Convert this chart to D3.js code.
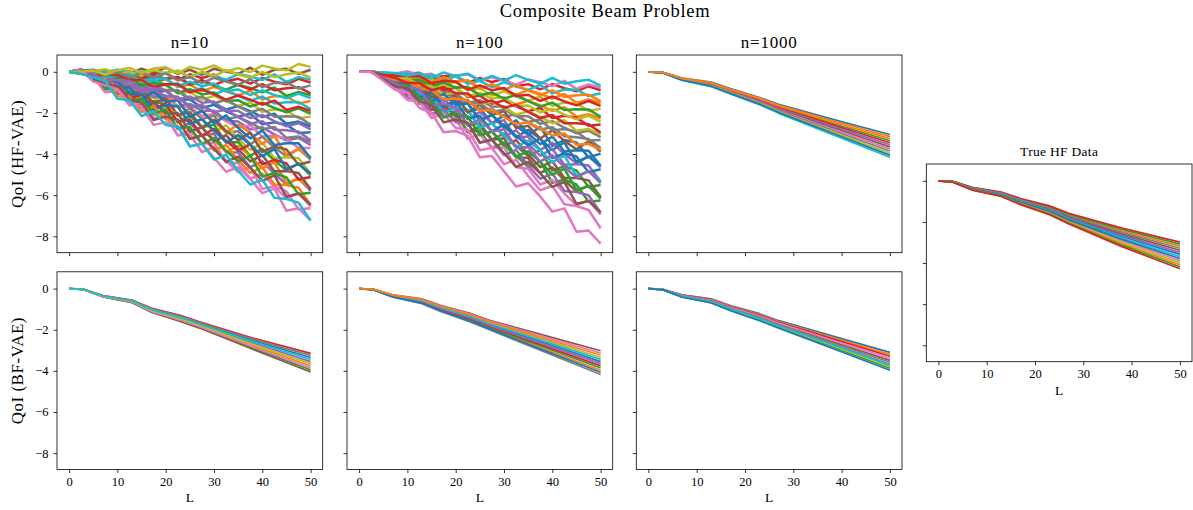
<!DOCTYPE html>
<html>
<head>
<meta charset="utf-8">
<script src="https://cdn.jsdelivr.net/npm/d3@7"></script>
<style>
  body { margin: 0; background: #fff; }
  svg text { font-family: "Liberation Serif", "DejaVu Serif", serif; fill: #000; }
</style>
</head>
<body>
<div id="chart"></div>
<script>
// L positions sampled for the noisy (HF-VAE, n=10 / n=100) panels and the smooth ones.
var L_NOISY = [0, 2.5, 5, 7.5, 10, 12.5, 15, 17.5, 20, 22.5, 25, 27.5, 30, 32.5, 35, 37.5, 40, 42.5, 45, 47.5, 50];
var L_SMOOTH = [0, 3, 7, 13, 17, 23, 27, 38, 50];

var xTicks = [0, 10, 20, 30, 40, 50];
var yTicks = [-8, -6, -4, -2, 0];

var colTitles = ['n=10', 'n=100', 'n=1000'];

// QoI (HF-VAE), n=10
var hfN10 = [
  [0, .05, -.06, -.42, -.38, -.74, -.65, -1.01, -.92, -1.38, -1.34, -1.75, -1.61, -1.92, -2.18, -2.04, -2.55, -2.46, -2.57, -2.98, -2.94],
  [0, .05, .02, -.26, -.14, -.42, -.25, -.53, -.36, -.74, -.62, -.95, -.73, -.96, -1.14, -.92, -1.35, -1.18, -1.21, -1.54, -1.42],
  [0, .05, -.11, -.07, -.03, -.24, -.2, -.51, -.32, -.28, -.64, -.45, -.66, -.87, -.63, -.79, -1.0, -.76, -1.17, -.98, -1.14],
  [0, 0, .02, -.21, -.04, .03, -.25, -.08, -.06, -.39, -.12, -.3, -.13, -.46, -.34, -.57, -.3, -.48, -.61, -.34, -.52],
  [0, 0, -.14, -.53, -.52, -.61, -1.05, -1.04, -1.18, -1.67, -1.56, -1.9, -1.89, -2.38, -2.42, -2.81, -2.7, -3.04, -3.33, -3.22, -3.56],
  [0, .05, .1, -.1, .1, -.1, .15, -.05, .2, -.1, .1, -.15, .15, 0, -.1, .2, -.15, .1, .15, -.1, .1],
  [0, .05, -.1, -.5, -.5, -.9, -.85, -1.25, -1.2, -1.7, -1.7, -2.15, -2.05, -2.4, -2.7, -2.6, -3.15, -3.1, -3.25, -3.7, -3.7],
  [0, 0, -.13, -.76, -.59, -.62, -1.35, -1.18, -1.31, -2.14, -1.77, -2.3, -2.13, -2.96, -2.89, -3.52, -3.15, -3.68, -4.11, -3.74, -4.27],
  [0, -.1, -.15, -.2, -.95, -.9, -1.55, -1.2, -1.75, -1.7, -2.55, -2.3, -2.95, -2.6, -3.25, -3.8, -3.45, -4.2, -4.15, -4.2, -4.95],
  [0, -.05, -.04, -.03, -.37, -.31, -.6, -.39, -.63, -.57, -.96, -.8, -1.09, -.88, -1.17, -1.41, -1.2, -1.54, -1.48, -1.47, -1.81],
  [0, .05, -.19, -.23, -.27, -.56, -.6, -.99, -.88, -.92, -1.36, -1.25, -1.54, -1.83, -1.67, -1.91, -2.2, -2.04, -2.53, -2.42, -2.66],
  [0, .1, -.32, -.34, -.36, -.88, -.9, -1.62, -1.34, -1.36, -2.18, -1.9, -2.42, -2.94, -2.56, -2.98, -3.5, -3.12, -4.04, -3.76, -4.18],
  [0, 0, -.17, -.84, -.71, -.78, -1.55, -1.42, -1.59, -2.46, -2.13, -2.7, -2.57, -3.44, -3.41, -4.08, -3.75, -4.32, -4.79, -4.46, -5.03],
  [0, -.05, 0, .05, -.25, -.15, -.4, -.15, -.35, -.25, -.6, -.4, -.65, -.4, -.65, -.85, -.6, -.9, -.8, -.75, -1.05],
  [0, 0, -.21, -.92, -.83, -.94, -1.75, -1.66, -1.87, -2.78, -2.49, -3.1, -3.01, -3.92, -3.93, -4.64, -4.35, -4.96, -5.47, -5.18, -5.79],
  [0, .1, -.04, -.68, -.52, -1.16, -.9, -1.54, -1.28, -2.12, -1.96, -2.7, -2.34, -2.88, -3.32, -2.96, -3.9, -3.64, -3.78, -4.52, -4.36],
  [0, 0, -.25, -1.0, -.95, -1.1, -1.95, -1.9, -2.15, -3.1, -2.85, -3.5, -3.45, -4.4, -4.45, -5.2, -4.95, -5.6, -6.15, -5.9, -6.55],
  [0, .05, -.23, -.31, -.39, -.72, -.8, -1.23, -1.16, -1.24, -1.72, -1.65, -1.98, -2.31, -2.19, -2.47, -2.8, -2.68, -3.21, -3.14, -3.42],
  [0, .05, -.02, -.34, -.26, -.58, -.45, -.77, -.64, -1.06, -.98, -1.35, -1.17, -1.44, -1.66, -1.48, -1.95, -1.82, -1.89, -2.26, -2.18],
  [0, .05, -.07, .01, .09, -.08, 0, -.27, -.04, .04, -.28, -.05, -.22, -.39, -.11, -.23, -.4, -.12, -.49, -.26, -.38],
  [0, -.1, -.11, -.12, -.83, -.74, -1.35, -.96, -1.47, -1.38, -2.19, -1.9, -2.51, -2.12, -2.73, -3.24, -2.85, -3.56, -3.47, -3.48, -4.19],
  [0, .1, -.4, -.5, -.6, -1.2, -1.3, -2.1, -1.9, -2.0, -2.9, -2.7, -3.3, -3.9, -3.6, -4.1, -4.7, -4.4, -5.4, -5.2, -5.7],
  [0, 0, -.06, -.37, -.28, -.29, -.65, -.56, -.62, -1.03, -.84, -1.1, -1.01, -1.42, -1.38, -1.69, -1.5, -1.76, -1.97, -1.78, -2.04],
  [0, .1, -.08, -.76, -.64, -1.32, -1.1, -1.78, -1.56, -2.44, -2.32, -3.1, -2.78, -3.36, -3.84, -3.52, -4.5, -4.28, -4.46, -5.24, -5.12],
  [0, -.05, -.12, -.19, -.61, -.63, -1.0, -.87, -1.19, -1.21, -1.68, -1.6, -1.97, -1.84, -2.21, -2.53, -2.4, -2.82, -2.84, -2.91, -3.33],
  [0, -.1, -.19, -.28, -1.07, -1.06, -1.75, -1.44, -2.03, -2.02, -2.91, -2.7, -3.39, -3.08, -3.77, -4.36, -4.05, -4.84, -4.83, -4.92, -5.71],
  [0, .1, -.16, -.92, -.88, -1.64, -1.5, -2.26, -2.12, -3.08, -3.04, -3.9, -3.66, -4.32, -4.88, -4.64, -5.7, -5.56, -5.82, -6.68, -6.64],
  [0, -.05, -.08, -.11, -.49, -.47, -.8, -.63, -.91, -.89, -1.32, -1.2, -1.53, -1.36, -1.69, -1.97, -1.8, -2.18, -2.16, -2.19, -2.57],
  [0, -.05, .04, .13, -.13, .01, -.2, .09, -.07, .07, -.24, 0, -.21, .08, -.13, -.29, 0, -.26, -.12, -.03, -.29],
  [0, 0, -.02, -.29, -.16, -.13, -.45, -.32, -.34, -.71, -.48, -.7, -.57, -.94, -.86, -1.13, -.9, -1.12, -1.29, -1.06, -1.28],
  [0, .1, -.36, -.42, -.48, -1.04, -1.1, -1.86, -1.62, -1.68, -2.54, -2.3, -2.86, -3.42, -3.08, -3.54, -4.1, -3.76, -4.72, -4.48, -4.94],
  [0, -.1, -.23, -.36, -1.19, -1.22, -1.95, -1.68, -2.31, -2.34, -3.27, -3.1, -3.83, -3.56, -4.29, -4.92, -4.65, -5.48, -5.51, -5.64, -6.47],
  [0, .1, -.12, -.84, -.76, -1.48, -1.3, -2.02, -1.84, -2.76, -2.68, -3.5, -3.22, -3.84, -4.36, -4.08, -5.1, -4.92, -5.14, -5.96, -5.88],
  [0, .05, -.15, -.15, -.15, -.4, -.4, -.75, -.6, -.6, -1.0, -.85, -1.1, -1.35, -1.15, -1.35, -1.6, -1.4, -1.85, -1.7, -1.9],
  [0, 0, -.1, -.45, -.4, -.45, -.85, -.8, -.9, -1.35, -1.2, -1.5, -1.45, -1.9, -1.9, -2.25, -2.1, -2.4, -2.65, -2.5, -2.8],
  [0, .1, -.44, -.58, -.72, -1.36, -1.5, -2.34, -2.18, -2.32, -3.26, -3.1, -3.74, -4.38, -4.12, -4.66, -5.3, -5.04, -6.08, -5.92, -6.46],
  [0, .1, -.48, -.66, -.84, -1.52, -1.7, -2.58, -2.46, -2.64, -3.62, -3.5, -4.18, -4.86, -4.64, -5.22, -5.9, -5.68, -6.76, -6.64, -7.22],
  [0, .05, .06, -.18, -.02, -.26, -.05, -.29, -.08, -.42, -.26, -.55, -.29, -.48, -.62, -.36, -.75, -.54, -.53, -.82, -.66],
  [0, 0, .06, -.13, .08, .19, -.05, .16, .22, -.07, .24, .1, .31, .02, .18, -.01, .3, .16, .07, .38, .24],
  [0, -.1, -.27, -.44, -1.31, -1.38, -2.15, -1.92, -2.59, -2.66, -3.63, -3.5, -4.27, -4.04, -4.81, -5.48, -5.25, -6.12, -6.19, -6.36, -7.23]
];

// QoI (HF-VAE), n=100
var hfN100 = [
  [0, 0, -.22, -.44, -.46, -1.08, -.8, -1.42, -1.14, -1.96, -1.78, -2.5, -2.12, -2.64, -3.06, -2.68, -3.6, -3.32, -3.44, -4.16, -3.98],
  [0, 0, -.08, -.16, -.09, -.32, -.3, -.63, -.46, -.44, -.82, -.65, -.88, -1.11, -.89, -1.07, -1.3, -1.08, -1.51, -1.34, -1.52],
  [0, 0, -.3, -.6, -.7, -1.4, -1.2, -1.9, -1.7, -2.6, -2.5, -3.3, -3.0, -3.6, -4.1, -3.8, -4.8, -4.6, -4.8, -5.6, -5.5],
  [0, 0, -.05, -.1, -.1, -.05, -.35, -.2, -.2, -.55, -.3, -.5, -.35, -.7, -.6, -.85, -.6, -.8, -.95, -.7, -.9],
  [0, 0, -.25, -.5, -.65, -.7, -1.45, -1.3, -1.45, -2.3, -1.95, -2.5, -2.35, -3.2, -3.15, -3.8, -3.45, -4.0, -4.45, -4.1, -4.65],
  [0, 0, -.33, -.66, -.89, -1.02, -1.85, -1.78, -2.01, -2.94, -2.67, -3.3, -3.23, -4.16, -4.19, -4.92, -4.65, -5.28, -5.81, -5.54, -6.17],
  [0, 0, -.04, -.08, .03, -.16, -.1, -.39, -.18, -.12, -.46, -.25, -.44, -.63, -.37, -.51, -.7, -.44, -.83, -.62, -.76],
  [0, 0, -.17, -.34, -.46, -.53, -.95, -.92, -1.04, -1.51, -1.38, -1.7, -1.67, -2.14, -2.16, -2.53, -2.4, -2.72, -2.99, -2.86, -3.18],
  [0, 0, -.1, -.2, -.2, -.5, -.35, -.65, -.5, -.9, -.8, -1.15, -.95, -1.2, -1.4, -1.2, -1.65, -1.5, -1.55, -1.9, -1.8],
  [0, 0, -.06, -.12, -.08, -.34, -.15, -.41, -.22, -.58, -.44, -.75, -.51, -.72, -.88, -.64, -1.05, -.86, -.87, -1.18, -1.04],
  [0, 0, -.24, -.48, -.42, -.96, -1.0, -1.74, -1.48, -1.52, -2.36, -2.1, -2.64, -3.18, -2.82, -3.26, -3.8, -3.44, -4.38, -4.12, -4.56],
  [0, 0, -.12, -.24, -.21, -.48, -.5, -.87, -.74, -.76, -1.18, -1.05, -1.32, -1.59, -1.41, -1.63, -1.9, -1.72, -2.19, -2.06, -2.28],
  [0, 0, -.34, -.68, -.82, -1.56, -1.4, -2.14, -1.98, -2.92, -2.86, -3.7, -3.44, -4.08, -4.62, -4.36, -5.4, -5.24, -5.48, -6.32, -6.26],
  [0, 0, -.14, -.28, -.32, -.66, -.55, -.89, -.78, -1.22, -1.16, -1.55, -1.39, -1.68, -1.92, -1.76, -2.25, -2.14, -2.23, -2.62, -2.56],
  [0, 0, -.27, -.54, -1.01, -.98, -1.65, -1.32, -1.89, -1.86, -2.73, -2.5, -3.17, -2.84, -3.51, -4.08, -3.75, -4.52, -4.49, -4.56, -5.33],
  [0, 0, -.31, -.62, -1.13, -1.14, -1.85, -1.56, -2.17, -2.18, -3.09, -2.9, -3.61, -3.32, -4.03, -4.64, -4.35, -5.16, -5.17, -5.28, -6.09],
  [0, 0, -.37, -.74, -1.01, -1.18, -2.05, -2.02, -2.29, -3.26, -3.03, -3.7, -3.67, -4.64, -4.71, -5.48, -5.25, -5.92, -6.49, -6.26, -6.93],
  [0, 0, -.19, -.38, -.67, -.71, -1.1, -.99, -1.33, -1.37, -1.86, -1.8, -2.19, -2.08, -2.47, -2.81, -2.7, -3.14, -3.18, -3.27, -3.71],
  [0, 0, -.13, -.26, -.34, -.37, -.75, -.68, -.76, -1.19, -1.02, -1.3, -1.23, -1.66, -1.64, -1.97, -1.8, -2.08, -2.31, -2.14, -2.42],
  [0, 0, -.28, -.56, -.54, -1.12, -1.2, -1.98, -1.76, -1.84, -2.72, -2.5, -3.08, -3.66, -3.34, -3.82, -4.4, -4.08, -5.06, -4.84, -5.32],
  [0, 0, -.26, -.52, -.58, -1.24, -1.0, -1.66, -1.42, -2.28, -2.14, -2.9, -2.56, -3.12, -3.58, -3.24, -4.2, -3.96, -4.12, -4.88, -4.74],
  [0, 0, -.07, -.14, -.31, -.23, -.5, -.27, -.49, -.41, -.78, -.6, -.87, -.64, -.91, -1.13, -.9, -1.22, -1.14, -1.11, -1.43],
  [0, 0, -.11, -.22, -.43, -.39, -.7, -.51, -.77, -.73, -1.14, -1.0, -1.31, -1.12, -1.43, -1.69, -1.5, -1.86, -1.82, -1.83, -2.19],
  [0, 0, -.09, -.18, -.22, -.21, -.55, -.44, -.48, -.87, -.66, -.9, -.79, -1.18, -1.12, -1.41, -1.2, -1.44, -1.63, -1.42, -1.66],
  [0, 0, -.35, -.7, -1.25, -1.3, -2.05, -1.8, -2.45, -2.5, -3.45, -3.3, -4.05, -3.8, -4.55, -5.2, -4.95, -5.8, -5.85, -6.0, -6.85],
  [0, 0, -.21, -.42, -.53, -.54, -1.25, -1.06, -1.17, -1.98, -1.59, -2.1, -1.91, -2.72, -2.63, -3.24, -2.85, -3.36, -3.77, -3.38, -3.89],
  [0, 0, -.39, -.78, -1.37, -1.46, -2.25, -2.04, -2.73, -2.82, -3.81, -3.7, -4.49, -4.28, -5.07, -5.76, -5.55, -6.44, -6.53, -6.72, -7.61],
  [0, 0, -.18, -.36, -.44, -.82, -.75, -1.13, -1.06, -1.54, -1.52, -1.95, -1.83, -2.16, -2.44, -2.32, -2.85, -2.78, -2.91, -3.34, -3.32],
  [0, 0, -.16, -.32, -.33, -.64, -.7, -1.11, -1.02, -1.08, -1.54, -1.45, -1.76, -2.07, -1.93, -2.19, -2.5, -2.36, -2.87, -2.78, -3.04],
  [0, 0, -.03, -.06, -.19, -.07, -.3, -.03, -.21, -.09, -.42, -.2, -.43, -.16, -.39, -.57, -.3, -.58, -.46, -.39, -.67],
  [0, 0, -.23, -.46, -.89, -.82, -1.45, -1.08, -1.61, -1.54, -2.37, -2.1, -2.73, -2.36, -2.99, -3.52, -3.15, -3.88, -3.81, -3.84, -4.57],
  [0, 0, -.2, -.4, -.45, -.8, -.9, -1.35, -1.3, -1.4, -1.9, -1.85, -2.2, -2.55, -2.45, -2.75, -3.1, -3.0, -3.55, -3.5, -3.8],
  [0, 0, -.32, -.64, -.66, -1.28, -1.4, -2.22, -2.04, -2.16, -3.08, -2.9, -3.52, -4.14, -3.86, -4.38, -5.0, -4.72, -5.74, -5.56, -6.08],
  [0, 0, -.15, -.3, -.55, -.55, -.9, -.75, -1.05, -1.05, -1.5, -1.4, -1.75, -1.6, -1.95, -2.25, -2.1, -2.5, -2.5, -2.55, -2.95],
  [0, 0, -.29, -.58, -.77, -.86, -1.65, -1.54, -1.73, -2.62, -2.31, -2.9, -2.79, -3.68, -3.67, -4.36, -4.05, -4.64, -5.13, -4.82, -5.41],
  [0, 0, -.36, -.72, -.78, -1.44, -1.6, -2.46, -2.32, -2.48, -3.44, -3.3, -3.96, -4.62, -4.38, -4.94, -5.6, -5.36, -6.42, -6.28, -6.84],
  [0, 0, -.44, -.88, -1.02, -1.76, -2.0, -2.94, -2.88, -3.12, -4.16, -4.1, -4.84, -5.58, -5.42, -6.06, -6.8, -6.64, -7.78, -7.72, -8.36]
];

// QoI (HF-VAE), n=1000
var hfN1000 = [
  [0, -0.03, -0.30, -0.50, -0.82, -1.25, -1.58, -2.30, -3.05],
  [0, -0.03, -0.31, -0.52, -0.84, -1.28, -1.62, -2.37, -3.15],
  [0, -0.04, -0.33, -0.56, -0.89, -1.35, -1.70, -2.50, -3.35],
  [0, -0.04, -0.34, -0.58, -0.92, -1.38, -1.74, -2.57, -3.45],
  [0, -0.04, -0.36, -0.60, -0.94, -1.41, -1.78, -2.64, -3.55],
  [0, -0.05, -0.37, -0.62, -0.96, -1.44, -1.82, -2.71, -3.65],
  [0, -0.05, -0.38, -0.64, -0.99, -1.47, -1.86, -2.78, -3.75],
  [0, -0.05, -0.39, -0.66, -1.01, -1.51, -1.90, -2.84, -3.85],
  [0, -0.05, -0.40, -0.68, -1.03, -1.54, -1.94, -2.91, -3.95],
  [0, -0.06, -0.42, -0.72, -1.08, -1.60, -2.02, -3.05, -4.15],
  [0, -0.06, -0.41, -0.70, -1.06, -1.57, -1.98, -2.98, -4.05],
  [0, -0.04, -0.32, -0.54, -0.87, -1.31, -1.66, -2.44, -3.25]
];

// QoI (BF-VAE), n=10
var bfN10 = [
  [0, -0.03, -0.35, -0.59, -0.99, -1.37, -1.69, -2.52, -3.35],
  [0, -0.04, -0.38, -0.64, -1.08, -1.50, -1.82, -2.77, -3.75],
  [0, -0.05, -0.39, -0.67, -1.13, -1.57, -1.89, -2.89, -3.95],
  [0, -0.03, -0.34, -0.56, -0.95, -1.30, -1.62, -2.40, -3.15],
  [0, -0.04, -0.37, -0.61, -1.04, -1.43, -1.75, -2.64, -3.55],
  [0, -0.05, -0.40, -0.68, -1.15, -1.60, -1.92, -2.95, -4.05],
  [0, -0.05, -0.39, -0.65, -1.11, -1.53, -1.85, -2.83, -3.85],
  [0, -0.03, -0.35, -0.57, -0.97, -1.33, -1.65, -2.46, -3.25],
  [0, -0.04, -0.37, -0.63, -1.06, -1.47, -1.79, -2.71, -3.65],
  [0, -0.04, -0.36, -0.60, -1.02, -1.40, -1.72, -2.58, -3.45]
];

// QoI (BF-VAE), n=100
var bfN100 = [
  [0, -0.04, -0.35, -0.60, -0.96, -1.39, -1.75, -2.61, -3.55],
  [0, -0.05, -0.40, -0.69, -1.06, -1.54, -1.92, -2.91, -3.97],
  [0, -0.05, -0.39, -0.67, -1.04, -1.50, -1.88, -2.83, -3.86],
  [0, -0.05, -0.38, -0.65, -1.01, -1.47, -1.83, -2.76, -3.76],
  [0, -0.05, -0.37, -0.63, -0.98, -1.43, -1.79, -2.69, -3.65],
  [0, -0.03, -0.30, -0.50, -0.82, -1.20, -1.54, -2.25, -3.02],
  [0, -0.03, -0.31, -0.52, -0.85, -1.24, -1.58, -2.32, -3.13],
  [0, -0.06, -0.42, -0.73, -1.12, -1.62, -2.00, -3.05, -4.18],
  [0, -0.04, -0.33, -0.56, -0.90, -1.31, -1.67, -2.47, -3.34],
  [0, -0.04, -0.34, -0.58, -0.93, -1.35, -1.71, -2.54, -3.44],
  [0, -0.06, -0.41, -0.71, -1.09, -1.58, -1.96, -2.98, -4.07],
  [0, -0.04, -0.32, -0.54, -0.87, -1.28, -1.62, -2.40, -3.23]
];

// QoI (BF-VAE), n=1000
var bfN1000 = [
  [0, -0.03, -0.30, -0.50, -0.82, -1.22, -1.56, -2.30, -3.10],
  [0, -0.03, -0.31, -0.52, -0.85, -1.26, -1.60, -2.37, -3.20],
  [0, -0.06, -0.41, -0.68, -1.05, -1.52, -1.88, -2.83, -3.87],
  [0, -0.04, -0.33, -0.54, -0.88, -1.30, -1.64, -2.43, -3.29],
  [0, -0.05, -0.38, -0.63, -0.99, -1.45, -1.80, -2.70, -3.68],
  [0, -0.04, -0.35, -0.59, -0.94, -1.37, -1.72, -2.57, -3.49],
  [0, -0.04, -0.34, -0.57, -0.91, -1.33, -1.68, -2.50, -3.39],
  [0, -0.05, -0.37, -0.61, -0.96, -1.41, -1.76, -2.63, -3.58],
  [0, -0.05, -0.39, -0.65, -1.02, -1.48, -1.84, -2.77, -3.78],
  [0, -0.05, -0.38, -0.64, -1.00, -1.46, -1.82, -2.72, -3.72],
  [0, -0.06, -0.42, -0.70, -1.08, -1.56, -1.92, -2.90, -3.97]
];

// True HF data
var trueHF = [
  [0, -0.05, -0.38, -0.65, -1.00, -1.42, -1.82, -2.71, -3.58],
  [0, -0.04, -0.34, -0.58, -0.91, -1.29, -1.66, -2.44, -3.18],
  [0, -0.03, -0.33, -0.57, -0.88, -1.25, -1.62, -2.37, -3.08],
  [0, -0.03, -0.32, -0.55, -0.86, -1.22, -1.58, -2.30, -2.98],
  [0, -0.05, -0.37, -0.63, -0.98, -1.39, -1.78, -2.65, -3.48],
  [0, -0.04, -0.36, -0.61, -0.95, -1.35, -1.74, -2.58, -3.38],
  [0, -0.06, -0.41, -0.69, -1.07, -1.52, -1.94, -2.92, -3.88],
  [0, -0.04, -0.35, -0.60, -0.93, -1.32, -1.70, -2.51, -3.28],
  [0, -0.06, -0.42, -0.71, -1.09, -1.55, -1.98, -2.99, -3.98],
  [0, -0.05, -0.39, -0.66, -1.02, -1.45, -1.86, -2.78, -3.68],
  [0, -0.05, -0.40, -0.68, -1.04, -1.48, -1.90, -2.85, -3.78],
  [0, -0.06, -0.43, -0.73, -1.11, -1.58, -2.02, -3.06, -4.08],
  [0, -0.07, -0.44, -0.74, -1.14, -1.62, -2.06, -3.13, -4.18],
  [0, -0.07, -0.45, -0.76, -1.16, -1.65, -2.10, -3.20, -4.28]
];

;(function() {
  'use strict';

  var width = 1193,
      height = 510;

  var panelW = 265.7,
      panelH = 197.7;

  // Left edges of the four columns and tops of the two rows.
  var colX = [57, 347, 636.3, 926.3],
      rowY = [55, 271.8],
      trueY = 164;

  var color = d3.scaleOrdinal(d3.schemeCategory10);

  var svg = d3.select('#chart').append('svg')
      .attr('width', width)
      .attr('height', height);

  // Every panel shares the same y range, padded like matplotlib does.
  var allValues = d3.merge([hfN10, hfN100, hfN1000, bfN10, bfN100, bfN1000, trueHF].map(d3.merge));
  var yExt = d3.extent(allValues),
      yPad = (yExt[1] - yExt[0]) * 0.05;

  var xScale = d3.scaleLinear().domain([-2.5, 52.5]).range([0, panelW]);
  var yScale = d3.scaleLinear().domain([yExt[0] - yPad, yExt[1] + yPad]).range([panelH, 0]);

  function translation(x, y) {
    return 'translate(' + x + ',' + y + ')';
  }

  var clipId = 0;

  function drawPanel(opts) {
    var g = svg.append('g').attr('transform', translation(opts.x, opts.y));

    var id = 'clip' + (clipId++);
    g.append('clipPath').attr('id', id)
      .append('rect').attr('width', panelW).attr('height', panelH);

    var line = d3.line()
        .x(function(d, i) { return xScale(opts.L[i]); })
        .y(function(d) { return yScale(d); });

    g.append('g')
        .attr('clip-path', 'url(#' + id + ')')
      .selectAll('path')
      .data(opts.series)
      .enter().append('path')
        .attr('d', line)
        .attr('fill', 'none')
        .attr('stroke', function(d, i) { return color(i % 10); })
        .attr('stroke-width', opts.lineW)
        .attr('stroke-linejoin', 'round');

    var xAxis = d3.axisBottom(xScale)
        .tickValues(xTicks)
        .tickSize(3.5)
        .tickPadding(4)
        .tickFormat(opts.xLabels ? d3.format('d') : '');

    var yAxis = d3.axisLeft(yScale)
        .tickValues(yTicks)
        .tickSize(3.5)
        .tickPadding(5)
        .tickFormat(opts.yLabels ? d3.format('d') : '');

    var gx = g.append('g').attr('transform', translation(0, panelH)).call(xAxis);
    var gy = g.append('g').call(yAxis);

    [gx, gy].forEach(function(a) {
      a.select('.domain').remove();
      a.selectAll('line').attr('stroke', '#000').attr('stroke-width', 0.8);
      a.selectAll('text')
          .attr('fill', '#000')
          .style('font-family', '"Liberation Serif", "DejaVu Serif", serif')
          .style('font-size', '12.5px');
    });

    g.append('rect')
        .attr('width', panelW)
        .attr('height', panelH)
        .attr('fill', 'none')
        .attr('stroke', '#000')
        .attr('stroke-width', 0.8);

    if (opts.title) {
      g.append('text')
          .attr('x', panelW / 2)
          .attr('y', opts.titleSize > 15 ? -7 : -8)
          .attr('text-anchor', 'middle')
          .style('font-size', opts.titleSize + 'px')
          .style('letter-spacing', opts.titleSize > 15 ? '0.8px' : '0.3px')
          .text(opts.title);
    }

    if (opts.xTitle) {
      g.append('text')
          .attr('x', panelW / 2)
          .attr('y', panelH + 33)
          .attr('text-anchor', 'middle')
          .style('font-size', '13.5px')
          .text('L');
    }

    if (opts.yTitle) {
      g.append('text')
          .attr('transform', translation(-34, panelH / 2) + ' rotate(-90)')
          .attr('text-anchor', 'middle')
          .style('font-size', '17px')
          .style('letter-spacing', '0.5px')
          .text(opts.yTitle);
    }
  }

  var topRow = [hfN10, hfN100, hfN1000],
      bottomRow = [bfN10, bfN100, bfN1000];

  topRow.forEach(function(series, c) {
    var noisy = series !== hfN1000;
    drawPanel({
      x: colX[c], y: rowY[0], L: noisy ? L_NOISY : L_SMOOTH,
      series: series, lineW: noisy ? 2.5 : 1.7,
      title: colTitles[c], titleSize: 17,
      xLabels: false, yLabels: c === 0,
      yTitle: c === 0 ? 'QoI (HF-VAE)' : null
    });
  });

  bottomRow.forEach(function(series, c) {
    drawPanel({
      x: colX[c], y: rowY[1], L: L_SMOOTH,
      series: series, lineW: 1.7,
      xLabels: true, yLabels: c === 0, xTitle: true,
      yTitle: c === 0 ? 'QoI (BF-VAE)' : null
    });
  });

  drawPanel({
    x: colX[3], y: trueY, L: L_SMOOTH,
    series: trueHF, lineW: 1.7,
    title: 'True HF Data', titleSize: 13.5,
    xLabels: true, yLabels: false, xTitle: true
  });

  svg.append('text')
      .attr('x', 605)
      .attr('y', 17)
      .attr('text-anchor', 'middle')
      .style('font-size', '18.5px')
      .style('letter-spacing', '0.7px')
      .text('Composite Beam Problem');
}());
</script>
</body>
</html>
